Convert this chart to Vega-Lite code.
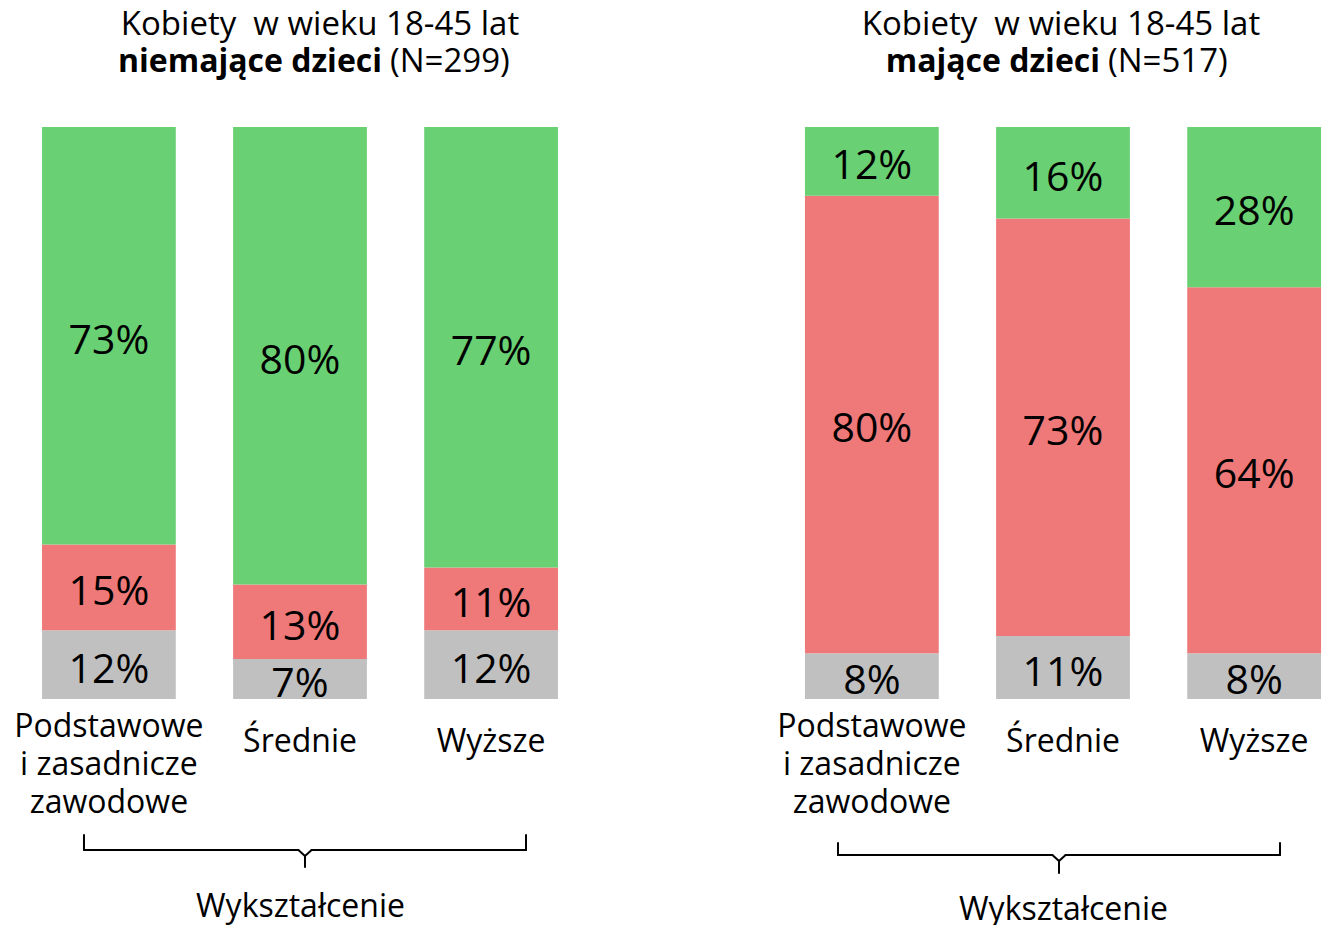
{
  "$schema": "https://vega.github.io/schema/vega-lite/v6.json",
  "padding": {"left": 0, "top": 9, "right": 0, "bottom": 0},
  "bounds": "flush",
  "spacing": 204,
  "config": {
    "view": {"stroke": null},
    "font": "Open Sans",
    "text": {"font": "Open Sans", "color": "#000000"},
    "rule": {"color": "#000000", "strokeWidth": 2, "strokeCap": "round"}
  },
  "datasets": {
    "bars": [
      {"panel": "L", "edu": "Podstawowe i zasadnicze zawodowe", "answer": "Trudno powiedzieć", "order": 0, "share": 0.12},
      {"panel": "L", "edu": "Podstawowe i zasadnicze zawodowe", "answer": "Nie", "order": 1, "share": 0.15},
      {"panel": "L", "edu": "Podstawowe i zasadnicze zawodowe", "answer": "Tak", "order": 2, "share": 0.73},
      {"panel": "L", "edu": "Średnie", "answer": "Trudno powiedzieć", "order": 0, "share": 0.07},
      {"panel": "L", "edu": "Średnie", "answer": "Nie", "order": 1, "share": 0.13},
      {"panel": "L", "edu": "Średnie", "answer": "Tak", "order": 2, "share": 0.80},
      {"panel": "L", "edu": "Wyższe", "answer": "Trudno powiedzieć", "order": 0, "share": 0.12},
      {"panel": "L", "edu": "Wyższe", "answer": "Nie", "order": 1, "share": 0.11},
      {"panel": "L", "edu": "Wyższe", "answer": "Tak", "order": 2, "share": 0.77},
      {"panel": "R", "edu": "Podstawowe i zasadnicze zawodowe", "answer": "Trudno powiedzieć", "order": 0, "share": 0.08},
      {"panel": "R", "edu": "Podstawowe i zasadnicze zawodowe", "answer": "Nie", "order": 1, "share": 0.80},
      {"panel": "R", "edu": "Podstawowe i zasadnicze zawodowe", "answer": "Tak", "order": 2, "share": 0.12},
      {"panel": "R", "edu": "Średnie", "answer": "Trudno powiedzieć", "order": 0, "share": 0.11},
      {"panel": "R", "edu": "Średnie", "answer": "Nie", "order": 1, "share": 0.73},
      {"panel": "R", "edu": "Średnie", "answer": "Tak", "order": 2, "share": 0.16},
      {"panel": "R", "edu": "Wyższe", "answer": "Trudno powiedzieć", "order": 0, "share": 0.08},
      {"panel": "R", "edu": "Wyższe", "answer": "Nie", "order": 1, "share": 0.64},
      {"panel": "R", "edu": "Wyższe", "answer": "Tak", "order": 2, "share": 0.28}
    ]
  },
  "hconcat": [
    {
      "width": 600,
      "height": 572,
      "resolve": {"scale": {"x": "independent"}},
      "layer": [
        {
          "data": {"name": "bars"},
          "transform": [
            {"filter": "datum.panel == 'L'"},
            {"stack": "share", "groupby": ["edu"], "sort": [{"field": "order", "order": "ascending"}], "as": ["s0", "s1"]}
          ],
          "encoding": {
            "x": {
              "field": "edu", "type": "nominal",
              "sort": ["Podstawowe i zasadnicze zawodowe", "Średnie", "Wyższe"],
              "scale": {"paddingInner": 0.3, "paddingOuter": 0.22},
              "axis": {
                "title": "Wykształcenie",
                "labelAngle": 0, "labelFont": "Open Sans", "labelFontSize": 32, "labelColor": "#000000",
                "labelLineHeight": 38, "labelPadding": {"condition": {"test": "datum.value != 'Podstawowe i zasadnicze zawodowe'", "value": 27}, "value": 12},
                "labelOverlap": false, "labelLimit": 0,
                "labelExpr": "datum.value == 'Podstawowe i zasadnicze zawodowe' ? ['Podstawowe', 'i zasadnicze', 'zawodowe'] : datum.value",
                "domain": false, "ticks": false,
                "titleFont": "Open Sans", "titleFontSize": 32, "titleFontWeight": "normal", "titleColor": "#000000", "titlePadding": 73
              }
            }
          },
          "layer": [
            {
              "mark": {"type": "bar"},
              "encoding": {
                "y": {"field": "s0", "type": "quantitative", "scale": {"domain": [0, 1]}, "axis": null},
                "y2": {"field": "s1"},
                "color": {"field": "answer", "type": "nominal", "scale": {"domain": ["Trudno powiedzieć", "Nie", "Tak"], "range": ["#c0c0c0", "#ef7878", "#69d173"]}, "legend": null}
              }
            },
            {
              "transform": [{"fold": ["s0", "s1"], "as": ["k", "v"]}],
              "mark": {"type": "text", "fontSize": 41, "baseline": "middle", "dy": 6},
              "encoding": {
                "y": {"aggregate": "mean", "field": "v", "type": "quantitative", "scale": {"domain": [0, 1]}, "axis": null},
                "detail": {"field": "answer", "type": "nominal"},
                "text": {"field": "share", "type": "quantitative", "format": ".0%"}
              }
            }
          ]
        },
        {
          "data": {"values": [{}]},
          "layer": [
            {"mark": "rule", "encoding": {
              "x": {"datum": 0, "type": "quantitative", "scale": {"domain": [-0.19, 1.1674], "nice": false, "zero": false}, "axis": null},
              "x2": {"datum": 0},
              "y": {"datum": -0.2378, "type": "quantitative", "scale": {"domain": [0, 1]}, "axis": null},
              "y2": {"datum": -0.264}}},
            {"mark": "rule", "encoding": {
              "x": {"datum": 0, "type": "quantitative", "scale": {"domain": [-0.19, 1.1674], "nice": false, "zero": false}, "axis": null},
              "x2": {"datum": 0.485},
              "y": {"datum": -0.264, "type": "quantitative", "scale": {"domain": [0, 1]}, "axis": null},
              "y2": {"datum": -0.264}}},
            {"mark": "rule", "encoding": {
              "x": {"datum": 0.485, "type": "quantitative", "scale": {"domain": [-0.19, 1.1674], "nice": false, "zero": false}, "axis": null},
              "x2": {"datum": 0.5},
              "y": {"datum": -0.264, "type": "quantitative", "scale": {"domain": [0, 1]}, "axis": null},
              "y2": {"datum": -0.2745}}},
            {"mark": "rule", "encoding": {
              "x": {"datum": 0.515, "type": "quantitative", "scale": {"domain": [-0.19, 1.1674], "nice": false, "zero": false}, "axis": null},
              "x2": {"datum": 0.5},
              "y": {"datum": -0.264, "type": "quantitative", "scale": {"domain": [0, 1]}, "axis": null},
              "y2": {"datum": -0.2745}}},
            {"mark": "rule", "encoding": {
              "x": {"datum": 0.5, "type": "quantitative", "scale": {"domain": [-0.19, 1.1674], "nice": false, "zero": false}, "axis": null},
              "x2": {"datum": 0.5},
              "y": {"datum": -0.2745, "type": "quantitative", "scale": {"domain": [0, 1]}, "axis": null},
              "y2": {"datum": -0.2937}}},
            {"mark": "rule", "encoding": {
              "x": {"datum": 0.515, "type": "quantitative", "scale": {"domain": [-0.19, 1.1674], "nice": false, "zero": false}, "axis": null},
              "x2": {"datum": 1},
              "y": {"datum": -0.264, "type": "quantitative", "scale": {"domain": [0, 1]}, "axis": null},
              "y2": {"datum": -0.264}}},
            {"mark": "rule", "encoding": {
              "x": {"datum": 1, "type": "quantitative", "scale": {"domain": [-0.19, 1.1674], "nice": false, "zero": false}, "axis": null},
              "x2": {"datum": 1},
              "y": {"datum": -0.264, "type": "quantitative", "scale": {"domain": [0, 1]}, "axis": null},
              "y2": {"datum": -0.2378}}}
          ]
        },
        {
          "data": {"values": [{}]},
          "layer": [
            {"mark": {"type": "text", "fontSize": 33, "baseline": "middle", "align": "center", "dx": 20},
             "encoding": {"text": {"value": "Kobiety \u00a0w wieku 18-45 lat"}, "y": {"datum": 1.178, "type": "quantitative", "scale": {"domain": [0, 1]}, "axis": null}}},
            {"mark": {"type": "text", "fontSize": 32, "baseline": "middle", "align": "right", "fontWeight": "bold", "dx": 82},
             "encoding": {"text": {"value": "niemające dzieci"}, "y": {"datum": 1.1136, "type": "quantitative", "scale": {"domain": [0, 1]}, "axis": null}}},
            {"mark": {"type": "text", "fontSize": 33, "baseline": "middle", "align": "left", "dx": 90},
             "encoding": {"text": {"value": "(N=299)"}, "y": {"datum": 1.1136, "type": "quantitative", "scale": {"domain": [0, 1]}, "axis": null}}}
          ]
        }
      ]
    },
    {
      "width": 518,
      "height": 572,
      "resolve": {"scale": {"x": "independent"}},
      "layer": [
        {
          "data": {"name": "bars"},
          "transform": [
            {"filter": "datum.panel == 'R'"},
            {"stack": "share", "groupby": ["edu"], "sort": [{"field": "order", "order": "ascending"}], "as": ["s0", "s1"]}
          ],
          "encoding": {
            "x": {
              "field": "edu", "type": "nominal",
              "sort": ["Podstawowe i zasadnicze zawodowe", "Średnie", "Wyższe"],
              "scale": {"paddingInner": 0.3, "paddingOuter": 0.005},
              "axis": {
                "title": "Wykształcenie",
                "labelAngle": 0, "labelFont": "Open Sans", "labelFontSize": 32, "labelColor": "#000000",
                "labelLineHeight": 38, "labelPadding": {"condition": {"test": "datum.value != 'Podstawowe i zasadnicze zawodowe'", "value": 27}, "value": 12},
                "labelOverlap": false, "labelLimit": 0,
                "labelExpr": "datum.value == 'Podstawowe i zasadnicze zawodowe' ? ['Podstawowe', 'i zasadnicze', 'zawodowe'] : datum.value",
                "domain": false, "ticks": false,
                "titleFont": "Open Sans", "titleFontSize": 32, "titleFontWeight": "normal", "titleColor": "#000000", "titlePadding": 76
              }
            }
          },
          "layer": [
            {
              "mark": {"type": "bar"},
              "encoding": {
                "y": {"field": "s0", "type": "quantitative", "scale": {"domain": [0, 1]}, "axis": null},
                "y2": {"field": "s1"},
                "color": {"field": "answer", "type": "nominal", "scale": {"domain": ["Trudno powiedzieć", "Nie", "Tak"], "range": ["#c0c0c0", "#ef7878", "#69d173"]}, "legend": null}
              }
            },
            {
              "transform": [{"fold": ["s0", "s1"], "as": ["k", "v"]}],
              "mark": {"type": "text", "fontSize": 41, "baseline": "middle", "dy": 6},
              "encoding": {
                "y": {"aggregate": "mean", "field": "v", "type": "quantitative", "scale": {"domain": [0, 1]}, "axis": null},
                "detail": {"field": "answer", "type": "nominal"},
                "text": {"field": "share", "type": "quantitative", "format": ".0%"}
              }
            }
          ]
        },
        {
          "data": {"values": [{}]},
          "layer": [
            {"mark": "rule", "encoding": {
              "x": {"datum": 0, "type": "quantitative", "scale": {"domain": [-0.0769, 1.095], "nice": false, "zero": false}, "axis": null},
              "x2": {"datum": 0},
              "y": {"datum": -0.2517, "type": "quantitative", "scale": {"domain": [0, 1]}, "axis": null},
              "y2": {"datum": -0.2727}}},
            {"mark": "rule", "encoding": {
              "x": {"datum": 0, "type": "quantitative", "scale": {"domain": [-0.0769, 1.095], "nice": false, "zero": false}, "axis": null},
              "x2": {"datum": 0.485},
              "y": {"datum": -0.2727, "type": "quantitative", "scale": {"domain": [0, 1]}, "axis": null},
              "y2": {"datum": -0.2727}}},
            {"mark": "rule", "encoding": {
              "x": {"datum": 0.485, "type": "quantitative", "scale": {"domain": [-0.0769, 1.095], "nice": false, "zero": false}, "axis": null},
              "x2": {"datum": 0.5},
              "y": {"datum": -0.2727, "type": "quantitative", "scale": {"domain": [0, 1]}, "axis": null},
              "y2": {"datum": -0.2832}}},
            {"mark": "rule", "encoding": {
              "x": {"datum": 0.515, "type": "quantitative", "scale": {"domain": [-0.0769, 1.095], "nice": false, "zero": false}, "axis": null},
              "x2": {"datum": 0.5},
              "y": {"datum": -0.2727, "type": "quantitative", "scale": {"domain": [0, 1]}, "axis": null},
              "y2": {"datum": -0.2832}}},
            {"mark": "rule", "encoding": {
              "x": {"datum": 0.5, "type": "quantitative", "scale": {"domain": [-0.0769, 1.095], "nice": false, "zero": false}, "axis": null},
              "x2": {"datum": 0.5},
              "y": {"datum": -0.2832, "type": "quantitative", "scale": {"domain": [0, 1]}, "axis": null},
              "y2": {"datum": -0.3042}}},
            {"mark": "rule", "encoding": {
              "x": {"datum": 0.515, "type": "quantitative", "scale": {"domain": [-0.0769, 1.095], "nice": false, "zero": false}, "axis": null},
              "x2": {"datum": 1},
              "y": {"datum": -0.2727, "type": "quantitative", "scale": {"domain": [0, 1]}, "axis": null},
              "y2": {"datum": -0.2727}}},
            {"mark": "rule", "encoding": {
              "x": {"datum": 1, "type": "quantitative", "scale": {"domain": [-0.0769, 1.095], "nice": false, "zero": false}, "axis": null},
              "x2": {"datum": 1},
              "y": {"datum": -0.2727, "type": "quantitative", "scale": {"domain": [0, 1]}, "axis": null},
              "y2": {"datum": -0.2517}}}
          ]
        },
        {
          "data": {"values": [{}]},
          "layer": [
            {"mark": {"type": "text", "fontSize": 33, "baseline": "middle", "align": "center", "dx": -2},
             "encoding": {"text": {"value": "Kobiety \u00a0w wieku 18-45 lat"}, "y": {"datum": 1.178, "type": "quantitative", "scale": {"domain": [0, 1]}, "axis": null}}},
            {"mark": {"type": "text", "fontSize": 32, "baseline": "middle", "align": "right", "fontWeight": "bold", "dx": 37},
             "encoding": {"text": {"value": "mające dzieci"}, "y": {"datum": 1.1136, "type": "quantitative", "scale": {"domain": [0, 1]}, "axis": null}}},
            {"mark": {"type": "text", "fontSize": 33, "baseline": "middle", "align": "left", "dx": 45},
             "encoding": {"text": {"value": "(N=517)"}, "y": {"datum": 1.1136, "type": "quantitative", "scale": {"domain": [0, 1]}, "axis": null}}}
          ]
        }
      ]
    }
  ]
}
